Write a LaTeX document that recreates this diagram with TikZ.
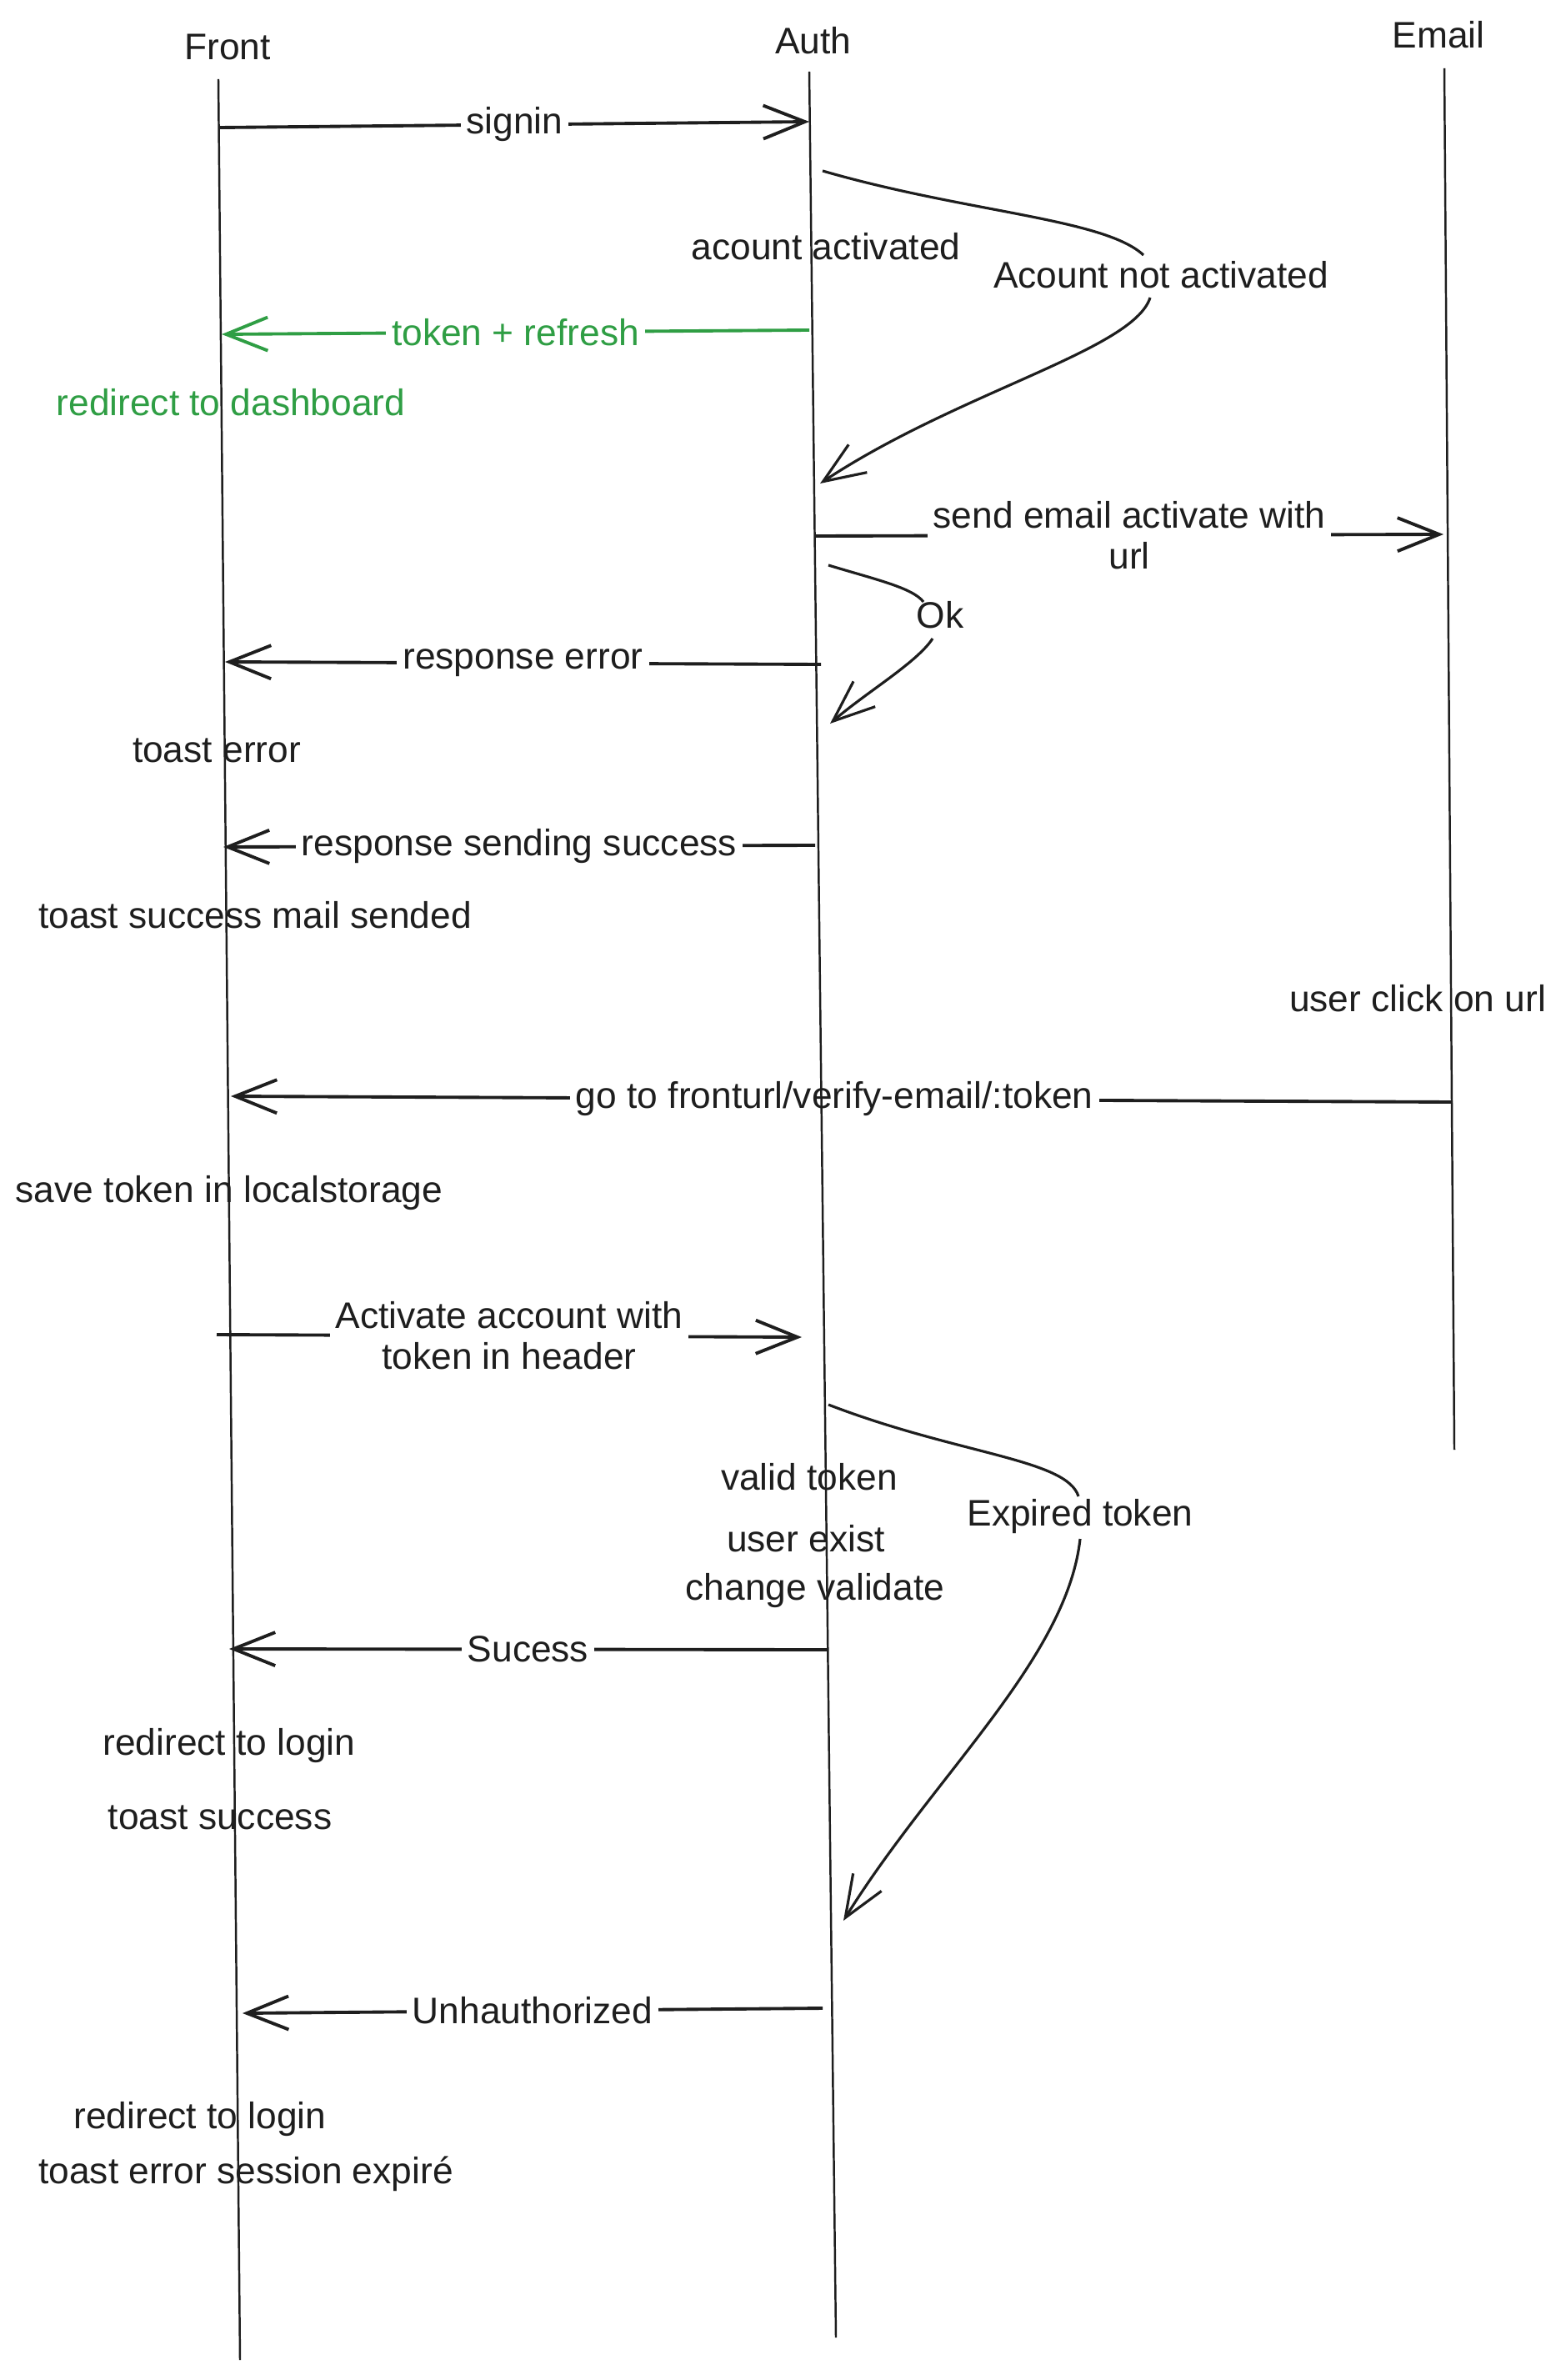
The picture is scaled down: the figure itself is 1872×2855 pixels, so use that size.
\documentclass[tikz,border=0pt]{standalone}
\usepackage{fontspec}
\setmainfont{Liberation Sans}
\usetikzlibrary{arrows.meta}
\definecolor{exgreen}{HTML}{2F9E44}
\definecolor{ink}{HTML}{1E1E1E}
\begin{document}
\begin{tikzpicture}[x=0.01cm,y=-0.01cm,
  lbl/.style={font=\fontsize{12.6}{14}\selectfont, inner sep=1pt, align=center, text=ink},
  onl/.style={lbl, fill=white, inner sep=2pt},
  life/.style={line width=0.7pt, draw=ink},
  msg/.style={line width=1.1pt, draw=ink, -{Straight Barb[length=5mm,width=4mm,line width=1.1pt]}},
  curvemsg/.style={line width=0.9pt, draw=ink},
  curvearrow/.style={line width=0.9pt, draw=ink, -{Straight Barb[length=5mm,width=4mm,line width=0.9pt]}},
  green/.style={draw=exgreen, text=exgreen}]
\useasboundingbox[fill=white] (0,0) rectangle (1872,2855);

% headers
\node[lbl] (hFront) at (273,56) {Front};
\node[lbl] (hAuth) at (976,49) {Auth};
\node[lbl] (hEmail) at (1726,42) {Email};

% lifeline ends
\coordinate (fT) at (262,95);  \coordinate (fB) at (288,2831);
\coordinate (aT) at (971,86);  \coordinate (aB) at (1003,2804);
\coordinate (eT) at (1733,82); \coordinate (eB) at (1745,1739);

% 1 signin
\coordinate (m1s) at (264,153); \coordinate (m1e) at (971,146);
\draw[msg] (m1s) -- node[onl] (l1) {signin} (m1e);

% not activated curve
\coordinate (c1s) at (987,205); \coordinate (c1e) at (984,580);
\coordinate (c1a) at (1372,306); \coordinate (c1b) at (1380,357);
\node[lbl] (na) at (1393,330) {Acount not activated};
\draw[curvemsg] (c1s) .. controls (1160,255) and (1325,262) .. (c1a);
\draw[curvearrow] (c1b) .. controls (1360,420) and (1150,470) .. (c1e);
\node[lbl] (act) at (991,296) {acount activated};

% token + refresh
\coordinate (m2s) at (971,396); \coordinate (m2e) at (266,401);
\draw[msg, green] (m2s) -- node[onl, text=exgreen] (l2) {token + refresh} (m2e);
\node[lbl, text=exgreen] (rd) at (277,483) {redirect to dashboard};

% send email
\coordinate (m3s) at (978,643); \coordinate (m3e) at (1732,641);
\draw[msg] (m3s) -- node[onl] (l3) {send email activate with\\url} (m3e);

% Ok curve
\coordinate (oks) at (994,678); \coordinate (oke) at (996,868);
\coordinate (oka) at (1108,722); \coordinate (okb) at (1119,766);
\node[lbl] (ok) at (1128,738) {Ok};
\draw[curvemsg] (oks) .. controls (1050,695) and (1095,705) .. (oka);
\draw[curvearrow] (okb) .. controls (1100,795) and (1040,830) .. (oke);

% response error
\coordinate (m4s) at (985,797); \coordinate (m4e) at (270,794);
\draw[msg] (m4s) -- node[onl] (l4) {response error} (m4e);
\node[lbl] (te) at (260,900) {toast error};

% response sending success
\coordinate (m5s) at (978,1014); \coordinate (m5e) at (268,1016);
\draw[msg] (m5s) -- node[onl] (l5) {response sending success} (m5e);
\node[lbl] (tsm) at (306,1098) {toast success mail sended};

\node[lbl] (uc) at (1701,1198) {user click on url};

% go to fronturl
\coordinate (m6s) at (1743,1322); \coordinate (m6e) at (277,1315);
\draw[msg] (m6s) -- node[onl, pos=0.506] (l6) {go to fronturl/verify-email/:token} (m6e);
\node[lbl] (st) at (275,1431) {save token in localstorage};

% activate account
\coordinate (m7s) at (260,1601); \coordinate (m7e) at (962,1604);
\draw[msg] (m7s) -- node[onl, pos=0.5] (l7) {Activate account with\\token in header} (m7e);

% expired curve
\coordinate (c2s) at (994,1685); \coordinate (c2e) at (1012,2304);
\coordinate (c2a) at (1294,1795); \coordinate (c2b) at (1296,1846);
\node[lbl] (ex) at (1296,1819) {Expired token};
\draw[curvemsg] (c2s) .. controls (1150,1745) and (1280,1750) .. (c2a);
\draw[curvearrow] (c2b) .. controls (1280,1990) and (1120,2130) .. (c2e);
\node[lbl] (vt) at (971,1772) {valid token};
\node[lbl] (ue) at (967,1846) {user exist};
\node[lbl] (cv) at (978,1908) {change validate};

% Sucess
\coordinate (m8s) at (992,1979); \coordinate (m8e) at (275,1978);
\draw[msg] (m8s) -- node[onl] (l8) {Sucess} (m8e);
\node[lbl] (rl1) at (275,2094) {redirect to login};
\node[lbl] (ts) at (264,2180) {toast success};

% Unhauthorized
\coordinate (m9s) at (987,2409); \coordinate (m9e) at (291,2415);
\draw[msg] (m9s) -- node[onl] (l9) {Unhauthorized} (m9e);
\node[lbl] (rl2) at (240,2542) {redirect to login};
\node[lbl] (tes) at (295,2608) {toast error session expiré};

% lifelines on top
\draw[life] (fT) -- (fB);
\draw[life] (aT) -- (aB);
\draw[life] (eT) -- (eB);
\end{tikzpicture}
\end{document}
